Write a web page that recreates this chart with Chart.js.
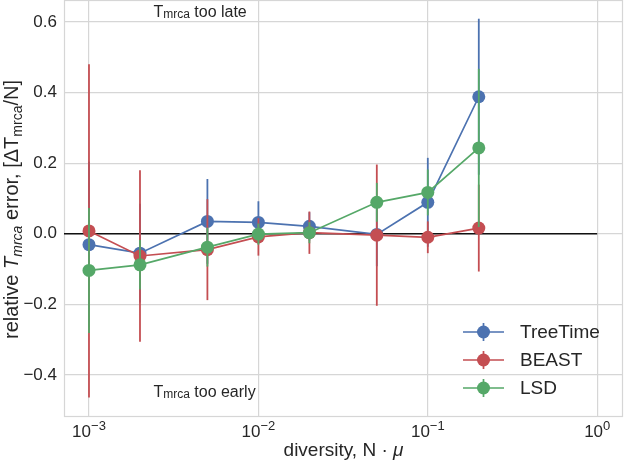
<!DOCTYPE html>
<html>
<head>
<meta charset="utf-8">
<script src="https://cdn.jsdelivr.net/npm/chart.js@4.4.0/dist/chart.umd.min.js"></script>
<style>
  html, body { margin: 0; padding: 0; background: #fff; }
  #wrap { width: 624px; height: 465px; position: relative; }
</style>
</head>
<body>
<div id="wrap"><canvas id="chart"></canvas></div>
<script>
const diversity = [0.001, 0.002, 0.005, 0.01, 0.02, 0.05, 0.1, 0.2];

const treeTimeMean = [-0.031, -0.055, 0.035, 0.032, 0.021, -0.002, 0.089, 0.388];
const treeTimeErr  = [0.235, 0.14, 0.12, 0.06, 0.04, 0.09, 0.126, 0.221];
const beastMean    = [0.008, -0.063, -0.045, -0.009, 0.003, -0.004, -0.01, 0.016];
const beastErr     = [0.472, 0.243, 0.143, 0.053, 0.06, 0.2, 0.045, 0.123];
const lsdMean      = [-0.104, -0.088, -0.038, -0.001, 0.003, 0.089, 0.117, 0.243];
const lsdErr       = [0.177, 0.07, 0.055, 0.03, 0.03, 0.055, 0.065, 0.224];

const xTicks = [0.001, 0.01, 0.1, 1];
const xTickExp = ["\u22123", "\u22122", "\u22121", "0"];
const yTicks = [-0.4, -0.2, 0, 0.2, 0.4, 0.6];
const zeroLineX = [0.000712, 1];

const BLUE = "#4c72b0";
const RED = "#c44e52";
const GREEN = "#55a868";
const TXT = "#262626";
const GRID = "#d6d6d6";
const FONT = "'Liberation Sans', Arial, sans-serif";

function pts(ys) {
  return diversity.map((x, i) => ({ x: x, y: ys[i] }));
}

function series(label, color, ys, errs) {
  return {
    label,
    data: pts(ys),
    errors: errs,
    showLine: true,
    borderColor: color,
    backgroundColor: color,
    pointBackgroundColor: color,
    pointBorderWidth: 0,
    pointRadius: 6.5,
    borderWidth: 1.7
  };
}

// draw segments of text with different fonts (for subscripts)
function drawRich(ctx, segs, x, y, align) {
  let total = 0;
  segs.forEach(s => { ctx.font = s.font; s.w = ctx.measureText(s.text).width; total += s.w; });
  let cx = align === "center" ? x - total / 2 : x;
  ctx.textAlign = "left";
  ctx.textBaseline = "alphabetic";
  segs.forEach(s => {
    ctx.font = s.font;
    ctx.fillText(s.text, cx, y + (s.dy || 0));
    cx += s.w;
  });
}

const errorBars = {
  id: "errorBars",
  beforeDatasetDraw(chart, args) {
    const ds = chart.data.datasets[args.index];
    if (!ds.errors) return;
    const xs = chart.scales.x, ys = chart.scales.y;
    const ctx = chart.ctx;
    ctx.save();
    ctx.strokeStyle = ds.borderColor;
    ctx.lineWidth = 1.8;
    ds.data.forEach((p, i) => {
      const px = xs.getPixelForValue(p.x);
      ctx.beginPath();
      ctx.moveTo(px, ys.getPixelForValue(p.y - ds.errors[i]));
      ctx.lineTo(px, ys.getPixelForValue(p.y + ds.errors[i]));
      ctx.stroke();
    });
    ctx.restore();
  }
};

const frame = {
  id: "frame",
  beforeDatasetsDraw(chart) {
    const a = chart.chartArea, ctx = chart.ctx;
    ctx.save();
    ctx.strokeStyle = GRID;
    ctx.lineWidth = 1.2;
    ctx.strokeRect(a.left + 0.5, a.top + 0.5, a.right - a.left - 1, a.bottom - a.top - 1);
    ctx.restore();
  }
};

const labels = {
  id: "labels",
  afterDraw(chart) {
    const ctx = chart.ctx, a = chart.chartArea;
    const xs = chart.scales.x, ys = chart.scales.y;
    ctx.save();
    ctx.fillStyle = TXT;

    // x tick labels: 10 with superscript exponent
    xTicks.forEach((v, i) => {
      drawRich(ctx, [
        { text: "10", font: "17px " + FONT },
        { text: xTickExp[i], font: "13px " + FONT, dy: -7 }
      ], xs.getPixelForValue(v), a.bottom + 20, "center");
    });

    // annotations
    const ax = xs.getPixelForValue(0.0024);
    drawRich(ctx, [
      { text: "T", font: "16px " + FONT },
      { text: "mrca", font: "12px " + FONT, dy: 1.5 },
      { text: " too late", font: "16px " + FONT }
    ], ax, ys.getPixelForValue(0.614), "left");
    drawRich(ctx, [
      { text: "T", font: "16px " + FONT },
      { text: "mrca", font: "12px " + FONT, dy: 1.5 },
      { text: " too early", font: "16px " + FONT }
    ], ax, ys.getPixelForValue(-0.461), "left");

    // x title
    drawRich(ctx, [
      { text: "diversity, N \u00B7 ", font: "19px " + FONT },
      { text: "\u03BC", font: "italic 19px " + FONT }
    ], (a.left + a.right) / 2, 456, "center");

    // y title
    ctx.save();
    ctx.translate(11, (a.top + a.bottom) / 2 + 1);
    ctx.rotate(-Math.PI / 2);
    drawRich(ctx, [
      { text: "relative ", font: "20px " + FONT },
      { text: "T", font: "italic 20px " + FONT },
      { text: "mrca", font: "italic 14px " + FONT, dy: 4 },
      { text: " error, [\u0394T", font: "20px " + FONT },
      { text: "mrca", font: "14px " + FONT, dy: 4 },
      { text: "/N]", font: "20px " + FONT }
    ], 0, 6.5, "center");
    ctx.restore();

    // legend
    const entries = [["TreeTime", BLUE], ["BEAST", RED], ["LSD", GREEN]];
    entries.forEach((e, i) => {
      const y = 332 + i * 28;
      ctx.strokeStyle = e[1];
      ctx.fillStyle = e[1];
      ctx.lineWidth = 1.7;
      ctx.beginPath();
      ctx.moveTo(463, y); ctx.lineTo(504, y);
      ctx.moveTo(483.5, y - 9); ctx.lineTo(483.5, y + 9);
      ctx.stroke();
      ctx.beginPath();
      ctx.arc(483.5, y, 6.5, 0, Math.PI * 2);
      ctx.fill();
      ctx.fillStyle = TXT;
      ctx.font = "19px " + FONT;
      ctx.textAlign = "left";
      ctx.textBaseline = "middle";
      ctx.fillText(e[0], 520, y + 1);
    });
    ctx.restore();
  }
};

new Chart(document.getElementById("chart"), {
  type: "scatter",
  data: {
    datasets: [
      series("LSD", GREEN, lsdMean, lsdErr),
      series("BEAST", RED, beastMean, beastErr),
      series("TreeTime", BLUE, treeTimeMean, treeTimeErr),
      {
        label: "zero",
        data: zeroLineX.map(x => ({ x: x, y: 0 })),
        showLine: true,
        borderColor: "#111111",
        borderWidth: 1.7,
        pointRadius: 0
      }
    ]
  },
  options: {
    responsive: true,
    maintainAspectRatio: false,
    animation: false,
    devicePixelRatio: 1,
    events: [],
    layout: { autoPadding: false, padding: { top: 0, right: 1, bottom: 0, left: 0 } },
    plugins: { legend: { display: false }, tooltip: { enabled: false } },
    scales: {
      x: {
        type: "logarithmic",
        min: 0.000712,
        max: 1.42,
        afterBuildTicks: s => { s.ticks = xTicks.map(v => ({ value: v })); },
        afterFit: s => { s.height = 48; s.paddingLeft = 0; s.paddingRight = 0; },
        ticks: { display: false },
        grid: { color: GRID, lineWidth: 1.2, drawTicks: false },
        border: { display: false }
      },
      y: {
        min: -0.519,
        max: 0.662,
        afterBuildTicks: s => { s.ticks = yTicks.map(v => ({ value: v })); },
        afterFit: s => { s.width = 64; s.paddingTop = 0; s.paddingBottom = 0; },
        ticks: {
          callback: v => v === 0 ? "0.0" : (v < 0 ? "\u2212" : "") + Math.abs(v).toFixed(1),
          padding: 7,
          color: TXT,
          font: { family: FONT, size: 17 }
        },
        grid: { color: GRID, lineWidth: 1.2, drawTicks: false },
        border: { display: false }
      }
    }
  },
  plugins: [errorBars, frame, labels]
});
</script>
</body>
</html>
